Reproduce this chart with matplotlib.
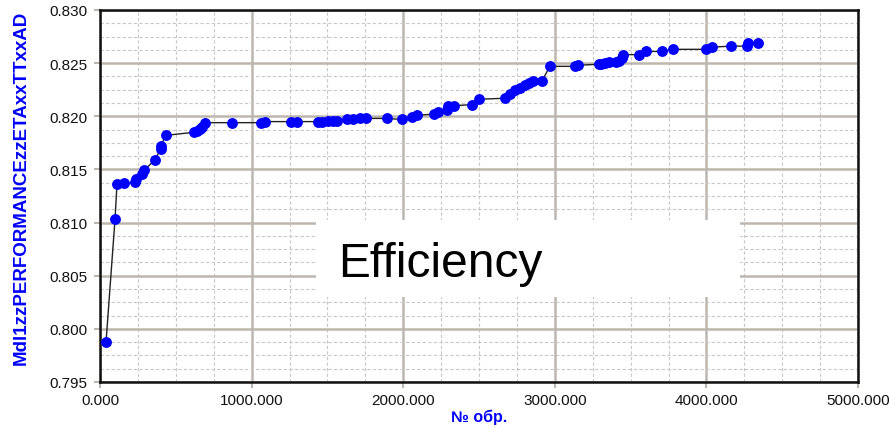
import matplotlib
matplotlib.use('Agg')
from matplotlib import pyplot as plt
from matplotlib.patches import Rectangle
from matplotlib.ticker import MultipleLocator, FormatStrFormatter

# sample number vs efficiency
n_obr = [40, 99, 112, 158, 231, 235, 275, 292, 360, 402, 402, 433,
         622, 638, 660, 671, 693, 869, 1060, 1088, 1258, 1297,
         1440, 1462, 1506, 1539, 1561, 1627, 1667, 1715, 1755, 1891,
         1990, 2056, 2089, 2203, 2232, 2287, 2293, 2337, 2456, 2500,
         2672, 2704, 2737, 2770, 2803, 2832, 2858, 2914, 2968,
         3133, 3155, 3294, 3303, 3331, 3358, 3404, 3425, 3441, 3448,
         3557, 3602, 3705, 3778, 3997, 4035, 4160, 4266, 4276, 4342]
eff = [0.7988, 0.8103, 0.8136, 0.8137, 0.8138, 0.8141, 0.8146, 0.8149,
       0.8159, 0.8169, 0.8172, 0.8182,
       0.8185, 0.8186, 0.8188, 0.8190, 0.8194, 0.8194, 0.8194, 0.8195,
       0.8195, 0.8195,
       0.8195, 0.8195, 0.8196, 0.8196, 0.8196, 0.8197, 0.8197, 0.8198,
       0.8198, 0.8198,
       0.8197, 0.8199, 0.8201, 0.8202, 0.8204, 0.8206, 0.8210, 0.8210,
       0.8211, 0.8216,
       0.8217, 0.8221, 0.8225, 0.8227, 0.8229, 0.8231, 0.8233, 0.8233,
       0.8247,
       0.8247, 0.8248, 0.8249, 0.8249, 0.8250, 0.8251, 0.8251, 0.8252,
       0.8255, 0.8258,
       0.8258, 0.8261, 0.8261, 0.8263, 0.8263, 0.8265, 0.8266, 0.8266,
       0.8269, 0.8269]

ylabel = 'Mdl1zzPERFORMANCEzzETAxxTTxxAD'
xlabel = '№ обр.'
title_txt = 'Efficiency'

plt.rcParams['font.family'] = ['Liberation Sans', 'DejaVu Sans']

fig = plt.figure(figsize=(8.9, 4.27), dpi=100)
ax = fig.add_axes([100/890, 1-383/427, 758/890, 372/427])

ax.plot(n_obr, eff, color='#222222', lw=1.0, zorder=3)
ax.plot(n_obr, eff, ls='none', marker='o', ms=6.8, color='#0000ff',
        mec='#0000ff', zorder=4)

ax.set_xlim(0, 5000)
ax.set_ylim(0.795, 0.830)
ax.xaxis.set_major_locator(MultipleLocator(1000))
ax.xaxis.set_minor_locator(MultipleLocator(250))
ax.yaxis.set_major_locator(MultipleLocator(0.005))
ax.yaxis.set_minor_locator(MultipleLocator(0.00125))
ax.xaxis.set_major_formatter(FormatStrFormatter('%.3f'))
ax.yaxis.set_major_formatter(FormatStrFormatter('%.3f'))

ax.set_axisbelow(True)
ax.grid(which='major', color='#bdb6ae', lw=1.8, ls='-')
ax.grid(which='minor', color='#c8c8c8', lw=0.8, ls=(0, (3, 2)))

ax.tick_params(which='major', length=4, width=1.5, color='#bdb6ae',
               labelsize=11, labelcolor='#111111')
ax.tick_params(axis='x', pad=4)
ax.tick_params(axis='y', pad=5)
ax.tick_params(which='minor', length=0)
for s in ax.spines.values():
    s.set_color('#111111')
    s.set_linewidth(1.8)

ax.set_ylabel(ylabel, color='#0000ff', fontweight='bold', fontsize=13.5)
ax.yaxis.set_label_coords(-0.093, 0.525)
ax.set_xlabel(xlabel, color='#0000ff', fontweight='bold', fontsize=11.5,
              labelpad=1)

# white box with the big caption
box = Rectangle((316/890, 1-298/427), 424/890, 77/427, transform=fig.transFigure,
                facecolor='white', edgecolor='none', zorder=2)
ax.add_patch(box)
ax.text(338/890, 1-277/427, title_txt, transform=fig.transFigure,
        fontsize=34.5, color='black', va='baseline', ha='left', zorder=5)

fig.savefig('out.png', dpi=100)
